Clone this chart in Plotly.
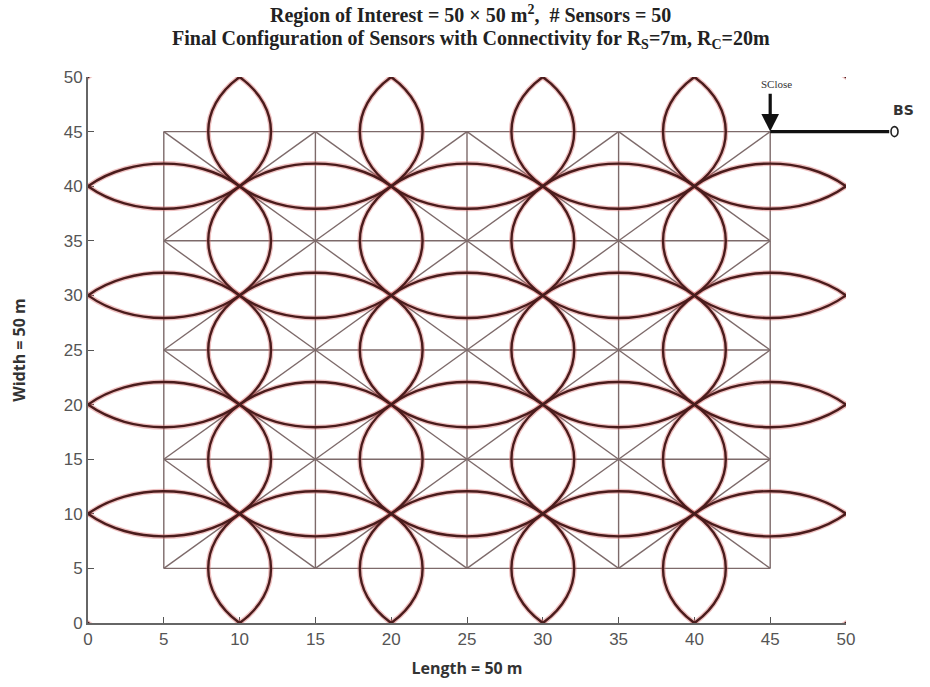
import plotly.graph_objects as go
import math

# ---- data ----
grid_x = [5, 15, 25, 35, 45]          # sensor column positions (m)
grid_y = [5, 15, 25, 35, 45]          # sensor row positions (m)
sensing_radius = 7.07                 # drawn coverage radius (m)
link_max_dist = 14.2                  # neighbours joined by links (m)
sclose = (45, 45)                     # closest sensor to the base station
sclose_arrow_top = 48.6
bs = (53.2, 45)                       # base station position
x_range = [0, 50]
y_range = [0, 50]
x_ticks = [0, 5, 10, 15, 20, 25, 30, 35, 40, 45, 50]
y_ticks = [0, 5, 10, 15, 20, 25, 30, 35, 40, 45, 50]

sensors = [(x, y) for y in grid_y for x in grid_x]

# connectivity links
lx, ly = [], []
for i, (x1, y1) in enumerate(sensors):
    for (x2, y2) in sensors[i + 1:]:
        if math.hypot(x2 - x1, y2 - y1) <= link_max_dist:
            lx += [x1, x2, None]
            ly += [y1, y2, None]

fig = go.Figure()
fig.add_trace(go.Scatter(x=lx, y=ly, mode="lines",
                         line=dict(color="#7d6a6a", width=1.4),
                         hoverinfo="skip", showlegend=False))

shapes = []
for (cx, cy) in sensors:
    shapes.append(dict(type="circle", xref="x", yref="y",
                       x0=cx - sensing_radius, x1=cx + sensing_radius,
                       y0=cy - sensing_radius, y1=cy + sensing_radius,
                       line=dict(color="rgba(215,100,100,0.4)", width=5),
                       layer="above"))
for (cx, cy) in sensors:
    shapes.append(dict(type="circle", xref="x", yref="y",
                       x0=cx - sensing_radius, x1=cx + sensing_radius,
                       y0=cy - sensing_radius, y1=cy + sensing_radius,
                       line=dict(color="#4a1c1c", width=2.4),
                       layer="above"))

# base-station marker (outside the axis range, so placed in paper units)
bs_px = (bs[0] - x_range[0]) / (x_range[1] - x_range[0])
bs_py = (bs[1] - y_range[0]) / (y_range[1] - y_range[0])
shapes.append(dict(type="circle", xref="paper", yref="paper",
                   xsizemode="pixel", ysizemode="pixel",
                   xanchor=bs_px, yanchor=bs_py, x0=-3.5, x1=3.5, y0=-5, y1=5,
                   line=dict(color="#222", width=1.6), fillcolor="white"))

annotations = [
    # link SClose -> BS
    dict(x=sclose[0], y=sclose[1], ax=bs[0] - 0.25, ay=bs[1], xref="x", yref="y",
         axref="x", ayref="y", text="", showarrow=True, arrowhead=0,
         arrowwidth=3.2, arrowcolor="#111"),
    # arrow to SClose
    dict(x=sclose[0], y=sclose[1], ax=sclose[0], ay=sclose_arrow_top,
         xref="x", yref="y", axref="x", ayref="y", text="", showarrow=True,
         arrowhead=2, arrowsize=1.1, arrowwidth=3.2, arrowcolor="#111"),
    dict(x=sclose[0] + 0.4, y=sclose_arrow_top + 0.8, xref="x", yref="y",
         text="SClose", showarrow=False,
         font=dict(family="Liberation Serif", size=11, color="#333")),
    dict(x=bs_px + 0.028, y=bs_py + 0.058, xref="paper", yref="paper", text="<b>BS</b>",
         showarrow=False, font=dict(family="DejaVu Sans", size=14, color="#333")),
    # title lines
    dict(x=0.505, y=1.115, xref="paper", yref="paper", showarrow=False, yanchor="middle",
         text="<b>Region of Interest = 50 × 50 m<sup>2</sup>,  # Sensors = 50</b>",
         font=dict(family="Liberation Serif", size=20, color="#222")),
    dict(x=0.505, y=1.068, xref="paper", yref="paper", showarrow=False, yanchor="middle",
         text="<b>Final Configuration of Sensors with Connectivity for R<sub>S</sub>=7m, R<sub>C</sub>=20m</b>",
         font=dict(family="Liberation Serif", size=20, color="#222")),
]

axis_common = dict(ticks="inside", ticklen=6, tickcolor="#555", showline=True,
                   linecolor="#666", linewidth=2, showgrid=False, zeroline=False,
                   mirror=False,
                   tickfont=dict(family="Liberation Sans Narrow, Liberation Sans",
                                 size=17, color="#555"))

fig.update_layout(
    width=930, height=687,
    margin=dict(l=88, r=84, t=77, b=64),
    paper_bgcolor="white", plot_bgcolor="white",
    shapes=shapes,
    annotations=annotations,
    xaxis=dict(range=x_range, tickvals=x_ticks, **axis_common,
               title=dict(text="<b>Length = 50 m</b>", standoff=14,
                          font=dict(family="Open Sans", size=16, color="#333"))),
    yaxis=dict(range=y_range, tickvals=y_ticks, **axis_common,
               title=dict(text="<b>Width = 50 m</b>", standoff=34,
                          font=dict(family="Open Sans", size=16, color="#333"))),
)

fig.write_html("out.html", config={"displayModeBar": False},
               post_script="document.body.style.margin='0';")
